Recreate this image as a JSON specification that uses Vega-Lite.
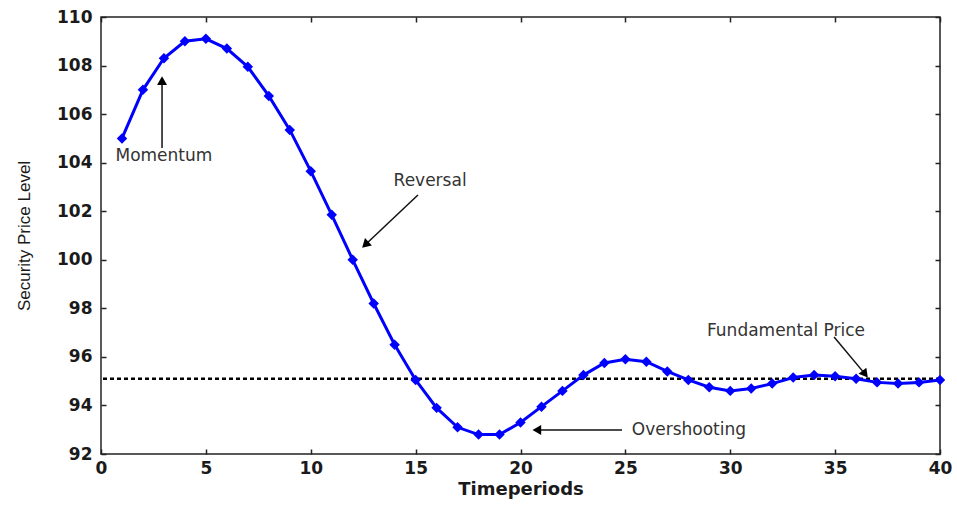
{
  "$schema": "https://vega.github.io/schema/vega-lite/v6.json",
  "width": 839,
  "height": 437,
  "autosize": {"type": "none"},
  "padding": {"left": 101, "top": 17, "right": 17, "bottom": 55},
  "background": "white",
  "config": {
    "view": {"stroke": "#222222", "strokeWidth": 1.5},
    "axis": {
      "grid": false,
      "domain": false,
      "tickSize": -5,
      "tickColor": "#222222",
      "tickWidth": 1.5,
      "labelFont": "DejaVu Sans",
      "labelFontWeight": "bold",
      "labelFontSize": 17,
      "labelColor": "#1a1a1a",
      "titleColor": "#1a1a1a"
    }
  },
  "datasets": {
    "series": [
      {"t": 1, "price": 105.0}, {"t": 2, "price": 107.0}, {"t": 3, "price": 108.3},
      {"t": 4, "price": 109.0}, {"t": 5, "price": 109.1}, {"t": 6, "price": 108.7},
      {"t": 7, "price": 107.95}, {"t": 8, "price": 106.75}, {"t": 9, "price": 105.35},
      {"t": 10, "price": 103.65}, {"t": 11, "price": 101.85}, {"t": 12, "price": 100.0},
      {"t": 13, "price": 98.2}, {"t": 14, "price": 96.5}, {"t": 15, "price": 95.05},
      {"t": 16, "price": 93.9}, {"t": 17, "price": 93.1}, {"t": 18, "price": 92.8},
      {"t": 19, "price": 92.8}, {"t": 20, "price": 93.3}, {"t": 21, "price": 93.95},
      {"t": 22, "price": 94.6}, {"t": 23, "price": 95.25}, {"t": 24, "price": 95.75},
      {"t": 25, "price": 95.9}, {"t": 26, "price": 95.8}, {"t": 27, "price": 95.4},
      {"t": 28, "price": 95.05}, {"t": 29, "price": 94.75}, {"t": 30, "price": 94.6},
      {"t": 31, "price": 94.7}, {"t": 32, "price": 94.9}, {"t": 33, "price": 95.15},
      {"t": 34, "price": 95.25}, {"t": 35, "price": 95.2}, {"t": 36, "price": 95.1},
      {"t": 37, "price": 94.95}, {"t": 38, "price": 94.9}, {"t": 39, "price": 94.95},
      {"t": 40, "price": 95.05}
    ],
    "fundamental": [{"level": 95.1}],
    "notes": [
      {"label": "Momentum", "x": 3.0, "y": 104.28},
      {"label": "Reversal", "x": 15.69, "y": 103.25},
      {"label": "Overshooting", "x": 28.03, "y": 92.99},
      {"label": "Fundamental Price", "x": 32.66, "y": 97.07}
    ],
    "arrows": [
      {"name": "Momentum", "x": 2.91, "y": 104.6, "x2": 2.91, "y2": 107.38, "angle": 0},
      {"name": "Reversal", "x": 15.11, "y": 102.67, "x2": 12.6, "y2": 100.62, "angle": 226.6},
      {"name": "Overshooting", "x": 24.84, "y": 92.99, "x2": 20.78, "y2": 92.99, "angle": 270},
      {"name": "Fundamental Price", "x": 34.95, "y": 96.82, "x2": 36.43, "y2": 95.29, "angle": 141.7}
    ]
  },
  "layer": [
    {
      "data": {"name": "fundamental"},
      "mark": {"type": "rule", "color": "black", "strokeWidth": 2.5, "strokeDash": [4, 3]},
      "encoding": {
        "y": {"field": "level", "type": "quantitative", "scale": {"domain": [92, 110], "nice": false, "zero": false}, "axis": null}
      }
    },
    {
      "data": {"name": "series"},
      "mark": {"type": "line", "color": "#0000ff", "strokeWidth": 3},
      "encoding": {
        "x": {
          "field": "t", "type": "quantitative",
          "scale": {"domain": [0, 40], "nice": false, "zero": false},
          "axis": {
            "orient": "bottom", "values": [0, 5, 10, 15, 20, 25, 30, 35, 40],
            "labelPadding": 24, "labelBaseline": "alphabetic", "labelFlush": false,
            "title": "Timeperiods", "titleFont": "DejaVu Sans", "titleFontSize": 18,
            "titleFontWeight": "bold", "titleBaseline": "alphabetic", "titleY": 40
          }
        },
        "y": {
          "field": "price", "type": "quantitative",
          "scale": {"domain": [92, 110], "nice": false, "zero": false},
          "axis": {
            "orient": "left", "values": [92, 94, 96, 98, 100, 102, 104, 106, 108, 110],
            "labelPadding": 14, "labelFlush": false,
            "title": "Security Price Level", "titleFont": "Liberation Sans", "titleFontSize": 17,
            "titleFontWeight": "normal", "titleAngle": 270, "titleBaseline": "bottom",
            "titleAlign": "center", "titleX": -68, "titleY": 218.5
          }
        }
      }
    },
    {
      "data": {"name": "series"},
      "mark": {"type": "point", "shape": "diamond", "filled": true, "color": "#0000ff", "size": 110, "opacity": 1},
      "encoding": {
        "x": {"field": "t", "type": "quantitative", "axis": {"orient": "top", "values": [0, 5, 10, 15, 20, 25, 30, 35, 40], "labels": false, "title": null}},
        "y": {"field": "price", "type": "quantitative", "axis": {"orient": "right", "values": [92, 94, 96, 98, 100, 102, 104, 106, 108, 110], "labels": false, "title": null}}
      }
    },
    {
      "data": {"name": "arrows"},
      "mark": {"type": "rule", "color": "#111111", "strokeWidth": 1.5},
      "encoding": {
        "x": {"field": "x", "type": "quantitative", "axis": null},
        "y": {"field": "y", "type": "quantitative", "axis": null},
        "x2": {"field": "x2"},
        "y2": {"field": "y2"}
      }
    },
    {
      "data": {"name": "arrows"},
      "mark": {"type": "point", "shape": "triangle-up", "filled": true, "color": "black", "size": 100, "opacity": 1},
      "encoding": {
        "x": {"field": "x2", "type": "quantitative", "axis": null},
        "y": {"field": "y2", "type": "quantitative", "axis": null},
        "angle": {"field": "angle", "type": "quantitative", "scale": null}
      }
    },
    {
      "data": {"name": "notes"},
      "mark": {"type": "text", "font": "DejaVu Sans", "fontSize": 17, "color": "#333333", "align": "center", "baseline": "middle"},
      "encoding": {
        "x": {"field": "x", "type": "quantitative", "axis": null},
        "y": {"field": "y", "type": "quantitative", "axis": null},
        "text": {"field": "label"}
      }
    }
  ],
  "resolve": {"axis": {"x": "independent", "y": "independent"}}
}
